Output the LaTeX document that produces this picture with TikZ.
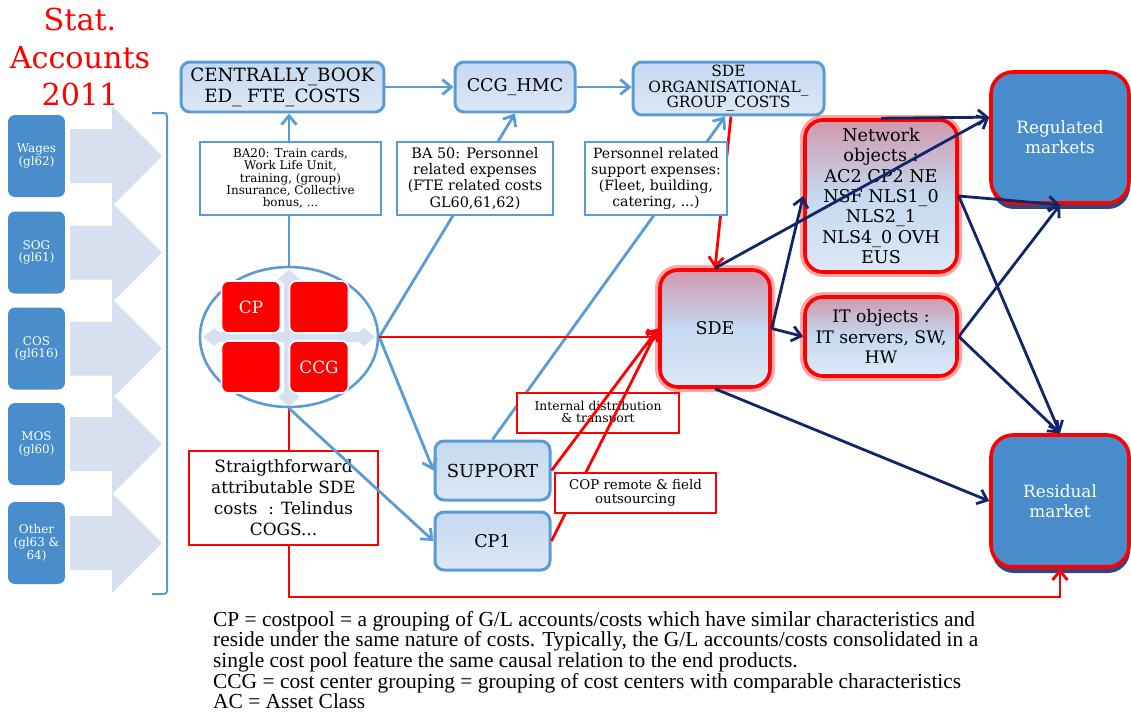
\documentclass[tikz,border=0pt]{standalone}
\usepackage{fontspec}
\setmainfont{DejaVu Serif}
\newfontfamily\legendfont{Liberation Serif}
\usetikzlibrary{arrows.meta,shapes.geometric,calc,shadows}

\newcommand{\fsz}[2]{\fontsize{#1}{#2}\selectfont}

\definecolor{boxblue}{RGB}{91,155,213}
\definecolor{mktblue}{RGB}{74,141,204}
\definecolor{paleblue}{RGB}{214,224,238}
\definecolor{lightA}{RGB}{197,217,241}
\definecolor{lightB}{RGB}{221,232,246}
\definecolor{pinkA}{RGB}{208,152,172}
\definecolor{navy}{RGB}{16,38,104}

\tikzset{
  >={Straight Barb[length=0.45cm,width=0.75cm]},
  srcbox/.style={rounded corners=0.35cm, fill=mktblue, text=white, align=center,
    minimum width=2.85cm, minimum height=4.1cm, inner sep=0pt, font=\fsz{17}{18}},
  flowbox/.style={rounded corners=0.45cm, draw=boxblue, line width=0.15cm,
    top color=lightA, bottom color=lightB, align=center, inner sep=0pt},
  hotbox/.style={rounded corners=0.9cm, draw=red, line width=0.18cm,
    top color=pinkA, bottom color=lightB, middle color=lightA, align=center,
    inner sep=0pt, preaction={draw=red, line width=0.5cm, opacity=0.35}},
  market/.style={rounded corners=1.1cm, draw=red, line width=0.18cm, fill=mktblue,
    text=white, align=center, inner sep=0pt, font=\fsz{24}{29},
    drop shadow={shadow xshift=0.05cm, shadow yshift=-0.3cm, fill=navy, opacity=0.85}},
  bluenote/.style={draw=boxblue, line width=0.08cm, fill=white, align=center, inner sep=0pt},
  rednote/.style={draw=red, line width=0.08cm, fill=white, align=center, inner sep=0pt},
  poolcell/.style={rounded corners=0.35cm, fill=red, draw=white, line width=0.08cm,
    minimum width=2.95cm, minimum height=2.6cm, text=white, font=\fsz{24}{29}},
  bluearr/.style={->, draw=boxblue, line width=0.14cm},
  redarr/.style={->, draw=red, line width=0.14cm},
  navyarr/.style={->, draw=navy, line width=0.14cm},
}

\begin{document}
\begin{tikzpicture}[x=0.05cm, y=-0.05cm]
  \useasboundingbox (0,0) rectangle (1131,719);

  % Title
  \node[text=red, align=center, font=\fsz{43}{53}] (title) at (80,57) {Stat.\\Accounts\\2011};

  % Pale arrows behind the source accounts
  \foreach \y in {156,252.5,348.5,444,543}
    \fill[paleblue] (70,\y-27) -- (112,\y-27) -- (112,\y-50) -- (162,\y)
      -- (112,\y+50) -- (112,\y+27) -- (70,\y+27) -- cycle;

  % Source accounts
  \foreach \y/\lbl [count=\i] in {156/{Wages\\(gl62)}, 252.5/{SOG\\(gl61)},
    348.5/{COS\\(gl616)}, 444/{MOS\\(gl60)}, 543/{Other\\(gl63 \&\\64)}}
    \node[srcbox] (src\i) at (36.5,\y) {\lbl};

  % Bracket
  \draw[boxblue, line width=0.1cm, rounded corners=0.15cm]
    (152,113) -- (167,113) -- (167,594) -- (152,594);

  % Top row
  \node[flowbox, minimum width=10.15cm, minimum height=2.5cm, font=\fsz{26}{30}] (cbfc)
    at (282.5,87) {CENTRALLY\_BOOK\\ED\_ FTE\_COSTS};
  \node[flowbox, minimum width=6cm, minimum height=2.5cm, font=\fsz{25}{30}] (ccghmc)
    at (515,87) {CCG\_HMC};
  \node[flowbox, minimum width=9.55cm, minimum height=2.65cm, font=\fsz{22}{21.5}] (sdeorg)
    at (728.5,88.5) {SDE\\ORGANISATIONAL\_\\GROUP\_COSTS};

  % Cost pools circle
  \node[ellipse, draw=boxblue, line width=0.13cm, fill=white,
    minimum width=8.9cm, minimum height=7cm] (circ) at (289,337) {};
  \fill[paleblue] ($(circ.center)+(-5,-58)$) rectangle ($(circ.center)+(5,60)$);
  \fill[paleblue] ($(circ.center)+(-75,-5)$) rectangle ($(circ.center)+(75,5)$);
  \foreach \dx/\dy in {0/-58, 0/60, -75/0, 75/0}
    \fill[paleblue] ($(circ.center)+(\dx,\dy)$) +(-11,0) -- +(0,-9) -- +(11,0) -- +(0,9) -- cycle;
  \foreach \n/\x/\y/\lbl in {cpsq/251/307/CP, trsq/319/307/, blsq/251/367/, ccgsq/319/367/CCG}
    \node[poolcell] (\n) at (\x,\y) {\lbl};

  % Middle nodes
  \node[flowbox, minimum width=5.75cm, minimum height=2.95cm, font=\fsz{25.5}{29}] (support)
    at (492.5,470.5) {SUPPORT};
  \node[flowbox, minimum width=5.75cm, minimum height=2.9cm, font=\fsz{25}{29}] (cp1)
    at (492.5,541) {CP1};
  \node[hotbox, minimum width=5.5cm, minimum height=5.85cm, font=\fsz{25}{29}] (sde)
    at (715,328.5) {SDE};
  \node[hotbox, minimum width=7.6cm, minimum height=7.6cm, font=\fsz{25}{29}] (netobj)
    at (881,196) {Network\\objects :\\AC2 CP2 NE\\NSF NLS1\_0\\NLS2\_1\\NLS4\_0 OVH\\EUS};
  \node[hotbox, minimum width=7.6cm, minimum height=3.95cm, font=\fsz{24.5}{29}] (itobj)
    at (881,336.5) {IT objects :\\IT servers, SW,\\HW};

  % Markets
  \node[market, minimum width=6.9cm, minimum height=6.55cm] (regmkt) at (1060,137.5) {Regulated\\markets};
  \node[market, minimum width=6.9cm, minimum height=6.6cm] (resmkt) at (1060,501) {Residual\\market};

  % Blue flows
  \draw[bluearr] (cbfc) -- (ccghmc);
  \draw[bluearr] (ccghmc.east) -- (ccghmc.east -| sdeorg.west);
  \draw[bluearr] (circ.north) -- (circ.north |- cbfc.south);
  \draw[bluearr] (circ.east) -- (ccghmc.south);
  \draw[bluearr] (circ.east) -- (support.west);
  \draw[bluearr] (support.north) -- (sdeorg.-97);

  % Red flows
  \coordinate (redbase) at (0,597);
  \draw[redarr] (sdeorg.-85) -- (sde.north);
  \draw[redarr] (circ.east) -- (circ.east -| sde.west);
  \draw[redarr] (circ.south) |- (resmkt.south |- redbase) -- (resmkt.south);

  % Notes on the flows
  \node[bluenote, minimum width=9.05cm, minimum height=3.65cm, font=\fsz{17}{17.5}] (ba20)
    at (290.5,178.5) {BA20: Train cards,\\Work Life Unit,\\training, (group)\\Insurance, Collective\\bonus, ...};
  \node[bluenote, minimum width=7.8cm, minimum height=3.65cm, font=\fsz{20.5}{23}] (ba50)
    at (475,178.5) {BA 50: Personnel\\related expenses\\(FTE related costs\\GL60,61,62)};
  \node[bluenote, minimum width=7.1cm, minimum height=3.65cm, font=\fsz{20}{23}] (prse)
    at (656,178.5) {Personnel related\\support expenses:\\(Fleet, building,\\catering, ...)};
  \node[rednote, minimum width=9.45cm, minimum height=4.7cm, font=\fsz{24}{30}] (sfbox)
    at (283.5,498) {Straigthforward\\attributable SDE\\costs \ : Telindus\\COGS...};
  \draw[bluearr] (circ.south) -- (cp1.west);

  \node[rednote, minimum width=8.1cm, minimum height=2cm, font=\fsz{17.5}{17}] (intdist)
    at (598,413) {Internal distribution\\\& transport};
  \draw[redarr] (support.east) -- (sde.west);
  \draw[redarr] (cp1.east) -- (sde.west);
  \node[rednote, minimum width=8.05cm, minimum height=2cm, font=\fsz{19}{20}] (copbox)
    at (635.5,493) {COP remote \& field\\outsourcing};

  % Navy flows to the markets
  \draw[navyarr] (sde.north) -- (regmkt.164);
  \draw[navyarr] (netobj.north) -- (regmkt.164);
  \draw[navyarr] (sde.east) -- (netobj.west);
  \draw[navyarr] (sde.east) -- (itobj.west);
  \draw[navyarr] (netobj.east) -- (regmkt.south);
  \draw[navyarr] (itobj.east) -- (regmkt.south);
  \draw[navyarr] (netobj.east) -- (resmkt.north);
  \draw[navyarr] (itobj.east) -- (resmkt.north);
  \draw[navyarr] (sde.south) -- (resmkt.west);

  % Legend
  \node[anchor=north west, align=left, inner sep=0pt, font=\legendfont\fsz{30.5}{29.3}] (legend)
    at (213,611) {CP = costpool = a grouping of G/L accounts/costs which have similar characteristics and\\
    reside under the same nature of costs. Typically, the G/L accounts/costs consolidated in a\\
    single cost pool feature the same causal relation to the end products.\\
    CCG = cost center grouping = grouping of cost centers with comparable characteristics\\
    AC = Asset Class};
\end{tikzpicture}
\end{document}
